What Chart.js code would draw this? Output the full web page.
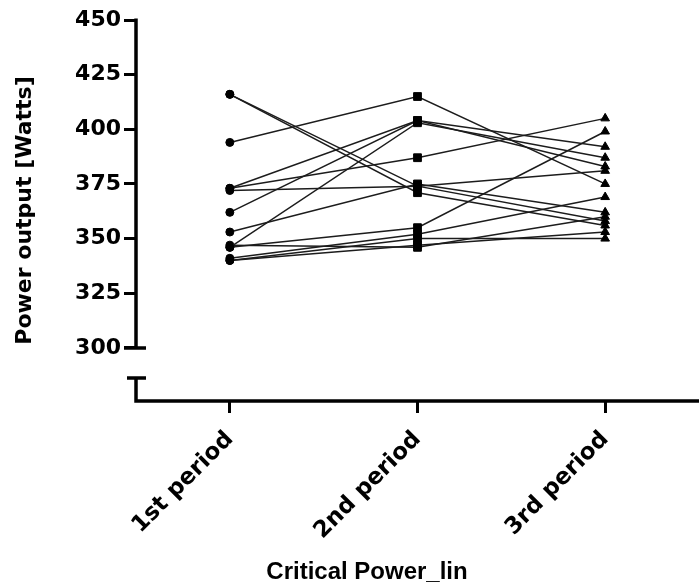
<!DOCTYPE html>
<html>
<head>
<meta charset="utf-8">
<script src="https://cdn.jsdelivr.net/npm/chart.js@4"></script>
<style>
  html, body { margin: 0; padding: 0; background: #fff; }
  canvas { display: block; }
</style>
</head>
<body>
<canvas id="c" width="699" height="588"></canvas>
<script>
const categories = ['1st period', '2nd period', '3rd period'];
// one value per subject in each period
const period1 = [416, 416, 394, 373, 373, 372, 362, 353, 346, 346, 341, 340, 340, 347];
const period2 = [374, 371, 415, 404, 387, 374, 404, 375, 403, 355, 352, 350, 347, 346];
const period3 = [358, 356, 375, 392, 405, 381, 383, 362, 387, 399, 369, 350, 353, 360];
const yTicks = [300, 325, 350, 375, 400, 425, 450];
const xTitle = 'Critical Power_lin';
const yTitle = 'Power output [Watts]';
const yMin = 275.7, yMax = 450, breakTop = 300, breakBottom = 286.2;

const tickFont = { family: 'DejaVu Sans', size: 22, weight: 'bold' };
const xTickFont = { family: 'DejaVu Sans', size: 23, weight: 'bold' };

const datasets = period1.map((v, i) => ({
  label: 'Subject ' + (i + 1),
  data: [period1[i], period2[i], period3[i]],
  borderColor: '#1c1c1c',
  borderWidth: 1.5,
  backgroundColor: '#000',
  pointBackgroundColor: '#000',
  pointBorderColor: '#000',
  pointBorderWidth: 1,
  pointStyle: ['circle', 'rect', 'triangle'],
  pointRadius: [4, 5.5, 5],
  fill: false,
  tension: 0,
  clip: false
}));

const axisBreak = {
  id: 'axisBreak',
  afterDraw(chart) {
    const ctx = chart.ctx;
    const y = chart.scales.y;
    const ax = chart.chartArea.left;
    const pTop = y.getPixelForValue(yMax);
    const p300 = y.getPixelForValue(breakTop);
    const pBr = y.getPixelForValue(breakBottom);
    const pBot = chart.chartArea.bottom;
    ctx.save();
    ctx.strokeStyle = '#000';
    ctx.lineWidth = 3.5;
    ctx.lineCap = 'butt';
    ctx.beginPath();
    ctx.moveTo(ax, pTop - 1.5);
    ctx.lineTo(ax, p300);
    ctx.moveTo(ax - 12, p300);
    ctx.lineTo(ax + 10, p300);
    ctx.moveTo(ax - 9, pBr);
    ctx.lineTo(ax + 10, pBr);
    ctx.moveTo(ax, pBr);
    ctx.lineTo(ax, pBot);
    ctx.lineTo(chart.width, pBot);
    ctx.stroke();
    // x axis title
    ctx.fillStyle = '#000';
    ctx.font = 'bold 24px "Liberation Sans", Arial, sans-serif';
    ctx.textAlign = 'center';
    ctx.textBaseline = 'middle';
    ctx.fillText(xTitle, 367, 572);
    ctx.restore();
  }
};

new Chart(document.getElementById('c'), {
  type: 'line',
  data: { labels: categories, datasets },
  options: {
    responsive: false,
    animation: false,
    layout: { autoPadding: false, padding: { top: 20, right: 0, left: 0, bottom: 0 } },
    plugins: { legend: { display: false }, tooltip: { enabled: false } },
    scales: {
      x: {
        type: 'category',
        offset: true,
        border: { display: false },
        grid: { drawOnChartArea: false, drawTicks: true, tickLength: 12, tickWidth: 3, color: '#000', offset: false },
        ticks: {
          minRotation: 45, maxRotation: 45, padding: 13,
          color: '#000',
          font: xTickFont
        },
        title: { display: false },
        afterFit(s) { s.height = 187; s.paddingRight = 0; s.paddingLeft = 0; }
      },
      y: {
        type: 'linear',
        min: yMin, max: yMax,
        border: { display: false },
        afterBuildTicks(s) { s.ticks = yTicks.map(v => ({ value: v })); },
        grid: { drawOnChartArea: false, drawTicks: true, tickLength: 12, tickWidth: 3, color: '#000' },
        ticks: {
          padding: 3, color: '#000',
          font: tickFont
        },
        title: {
          display: true, text: yTitle, color: '#000',
          font: { family: 'DejaVu Sans', size: 22, weight: 'bold' },
          padding: { top: 12, bottom: 0 }
        },
        afterFit(s) { s.width = 136; }
      }
    }
  },
  plugins: [axisBreak]
});
</script>
</body>
</html>
